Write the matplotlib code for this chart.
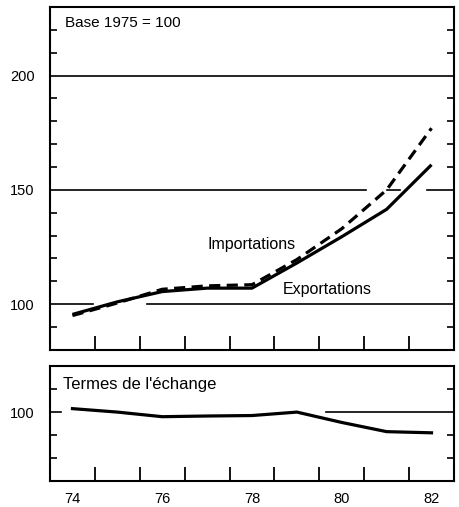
import matplotlib
matplotlib.use("Agg")
import matplotlib.pyplot as plt
import numpy as np

plt.rcParams['font.family'] = ['Liberation Sans', 'DejaVu Sans']

years = [74, 75, 76, 77, 78, 79, 80, 81, 82]
exportations = [95.5, 101, 105.5, 107, 107, 118, 129.5, 141.5, 161]
importations = [95, 100.5, 106.5, 108, 108.5, 119.5, 133, 150, 177]
termes_years = [74, 75, 76, 77, 78, 79, 80, 81, 82]
termes = [101.5, 100, 98, 98.3, 98.5, 100, 95.5, 91.5, 91]

xtick_labels = ["74", "76", "78", "80", "82"]
xtick_pos = [74, 76, 78, 80, 82]

fig = plt.figure(figsize=(4.59, 5.07), dpi=100)
ax1 = fig.add_axes([0.109, 0.310, 0.880, 0.676])
ax2 = fig.add_axes([0.109, 0.051, 0.880, 0.227])

for ax in (ax1, ax2):
    ax.set_xlim(73.5, 82.5)
    for s in ax.spines.values():
        s.set_linewidth(1.5)
        s.set_color('black')
    ax.tick_params(axis='x', which='major', length=0)
    ax.tick_params(axis='y', which='major', length=0, pad=11, labelsize=10.5)
    ax.tick_params(axis='y', which='minor', direction='in', length=5, width=1.2,
                   left=True, right=True)
    ax.tick_params(axis='x', which='minor', direction='in', length=10, width=1.3,
                   bottom=True, top=False)
    ax.set_xticks(np.arange(74.5, 82, 1.0), minor=True)

# top panel
ax1.set_ylim(80, 230)
ax1.set_yticks([100, 150, 200])
ax1.set_yticklabels(["100", "150", "200"])
ax1.set_yticks([90, 110, 120, 130, 140, 160, 170, 180, 190, 210, 220], minor=True)
ax1.set_xticks([])
ax1.set_xticks(np.arange(74.5, 82, 1.0), minor=True)
ax1.tick_params(axis='x', which='minor', direction='in', length=10, width=1.3)

# grid segments
ax1.plot([73.5, 74.45], [100, 100], color='black', lw=1.2)
ax1.plot([75.65, 82.5], [100, 100], color='black', lw=1.2)
ax1.plot([73.5, 80.55], [150, 150], color='black', lw=1.2)
ax1.plot([81.0, 81.3], [150, 150], color='black', lw=1.2)
ax1.plot([81.9, 82.5], [150, 150], color='black', lw=1.2)
ax1.plot([73.5, 82.5], [200, 200], color='black', lw=1.2)

ax1.plot(years, exportations, color='black', lw=2.3, solid_capstyle='butt')
ax1.plot(years, importations, color='black', lw=2.3, linestyle=(0, (3.5, 2)))

ax1.text(73.83, 223, "Base 1975 = 100", fontsize=11, va='center', ha='left')
ax1.text(78.0, 126.3, "Importations", fontsize=11.5, va='center', ha='center')
ax1.text(79.68, 106.5, "Exportations", fontsize=11.5, va='center', ha='center')

# bottom panel
ax2.set_ylim(70, 120)
ax2.set_yticks([100])
ax2.set_yticklabels(["100"])
ax2.set_yticks([80, 90, 110], minor=True)
ax2.set_xticks(xtick_pos)
ax2.set_xticklabels(xtick_labels)
ax2.tick_params(axis='x', which='major', length=0, pad=8, labelsize=10.5)

ax2.plot([73.5, 73.75], [100, 100], color='black', lw=1.2)
ax2.plot([79.65, 82.5], [100, 100], color='black', lw=1.2)
ax2.plot(termes_years, termes, color='black', lw=2.3)
ax2.text(73.8, 112, "Termes de l'échange", fontsize=12, va='center', ha='left')

fig.savefig("out.png", dpi=100)
